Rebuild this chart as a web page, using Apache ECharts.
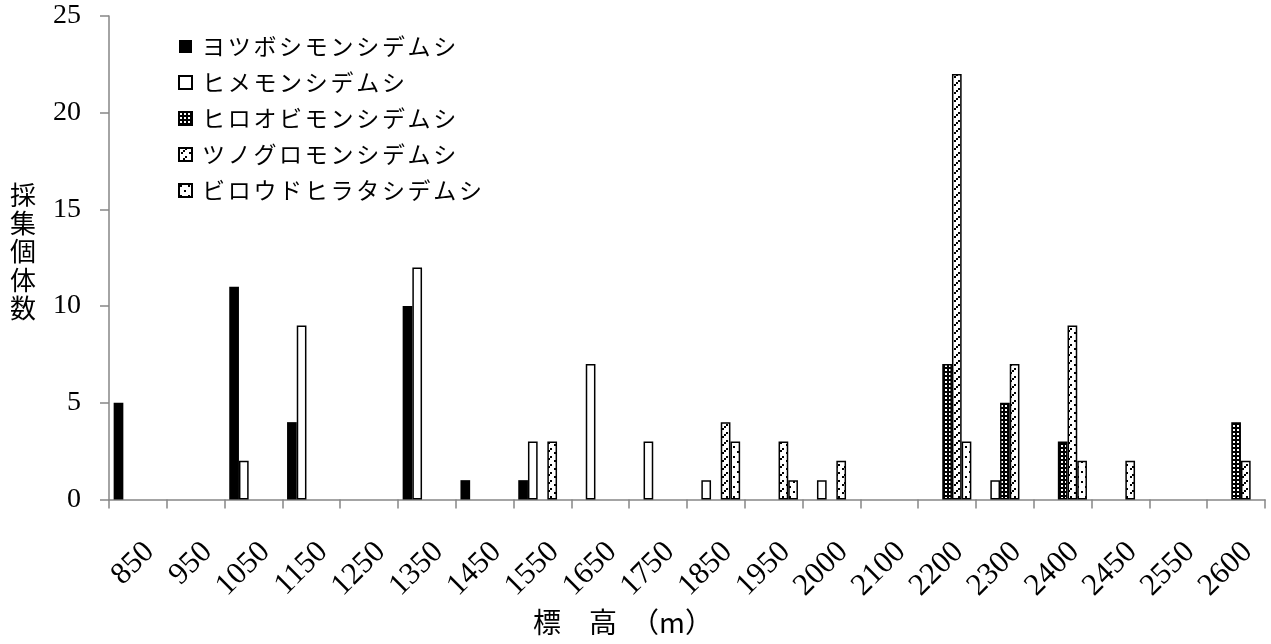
<!DOCTYPE html>
<html><head><meta charset="utf-8">
<script src="https://cdn.jsdelivr.net/npm/echarts@6/dist/echarts.min.js"></script>
<style>html,body{margin:0;padding:0;background:#fff}#c{width:1271px;height:644px}</style>
</head><body><div id="c"></div>
<script>
const categories = ['850','950','1050','1150','1250','1350','1450','1550','1650','1750','1850','1950','2000','2100','2200','2300','2400','2450','2550','2600'];
const seriesNames = ['ヨツボシモンシデムシ','ヒメモンシデムシ','ヒロオビモンシデムシ','ツノグロモンシデムシ','ビロウドヒラタシデムシ'];
const yotsuboshi = [5,0,11,4,0,10,1,1,0,0,0,0,0,0,0,0,0,0,0,0];
const hime       = [0,0,2,9,0,12,0,3,7,3,1,0,1,0,0,1,0,0,0,0];
const hiroobi    = [0,0,0,0,0,0,0,0,0,0,0,0,0,0,7,5,3,0,0,4];
const tsunoguro  = [0,0,0,0,0,0,0,3,0,0,4,3,2,0,22,7,9,2,0,2];
const biroudo    = [0,0,0,0,0,0,0,0,0,0,3,1,0,0,3,0,2,0,0,0];
const yMin = 0, yMax = 25, yStep = 5;
const yTitle = '採集個体数';
const xTitle = '標　高　（m）';

function pat(w, h, bg, fg, cells) {
  const c = document.createElement('canvas');
  c.width = w; c.height = h;
  const g = c.getContext('2d');
  g.fillStyle = bg; g.fillRect(0, 0, w, h);
  g.fillStyle = fg;
  cells.forEach(p => g.fillRect(p[0], p[1], p[2], p[3]));
  return { image: c, repeat: 'repeat' };
}
const fills = [
  '#000000',
  '#ffffff',
  pat(4, 4, '#000', '#fff', [[1,1,2,2]]),
  pat(8, 8, '#fff', '#000', [[6,0,2,2],[4,2,2,2],[2,4,2,2]]),
  pat(8, 10, '#fff', '#000', [[1,1,2,2],[5,6,2,2]])
];
const values = [yotsuboshi, hime, hiroobi, tsunoguro, biroudo];

const chart = echarts.init(document.getElementById('c'), null, {renderer: 'canvas'});
const axisGray = '#868686';
chart.setOption({
  animation: false,
  backgroundColor: '#fff',
  grid: {left: 109, right: 6, top: 16, bottom: 144.5, containLabel: false},
  legend: {
    orient: 'vertical', left: 178, top: 35, padding: 0,
    itemWidth: 13, itemHeight: 13, itemGap: 13, icon: 'rect',
    data: seriesNames,
    formatter: n => n.split('').map(ch => '{c|' + ch + '}').join(''),
    textStyle: {
      rich: {c: {width: 25.7, height: 20, lineHeight: 20, fontSize: 23, fontFamily: '"Noto Sans CJK JP"', color: '#000'}},
      padding: [0, 0, 0, 5]
    }
  },
  xAxis: {
    type: 'category', data: categories,
    axisLine: {lineStyle: {color: axisGray, width: 1.5}},
    axisTick: {show: true, length: 9, lineStyle: {color: axisGray, width: 1.5}},
    axisLabel: {interval: 0, rotate: 45, margin: 36, align: 'right', verticalAlign: 'top', lineHeight: 33, fontSize: 31, fontFamily: '"Liberation Serif"', color: '#000'},
    splitLine: {show: false}
  },
  yAxis: {
    type: 'value', min: yMin, max: yMax, interval: yStep,
    axisLine: {show: true, lineStyle: {color: axisGray, width: 1.5}},
    axisTick: {show: true, length: 9, lineStyle: {color: axisGray, width: 1.5}},
    axisLabel: {margin: 28, fontSize: 28, fontFamily: '"Liberation Serif"', color: '#000'},
    splitLine: {show: false}
  },
  graphic: [
    {type: 'text', left: 10, top: 181, style: {text: yTitle.split('').join('\n'), font: '26px "Noto Sans CJK JP"', lineHeight: 28.2, fill: '#000'}},
    {type: 'text', left: 533, top: 608, style: {text: xTitle, font: '28px "Noto Sans CJK JP"', fill: '#000'}}
  ],
  series: seriesNames.map((name, i) => ({
    name, type: 'bar',
    barWidth: 9.7, barGap: '0%',
    data: values[i].map(v => v === 0 ? null : v),
    itemStyle: {color: fills[i], borderColor: '#000', borderWidth: i === 0 ? 0 : 1.5}
  }))
});
</script></body></html>
